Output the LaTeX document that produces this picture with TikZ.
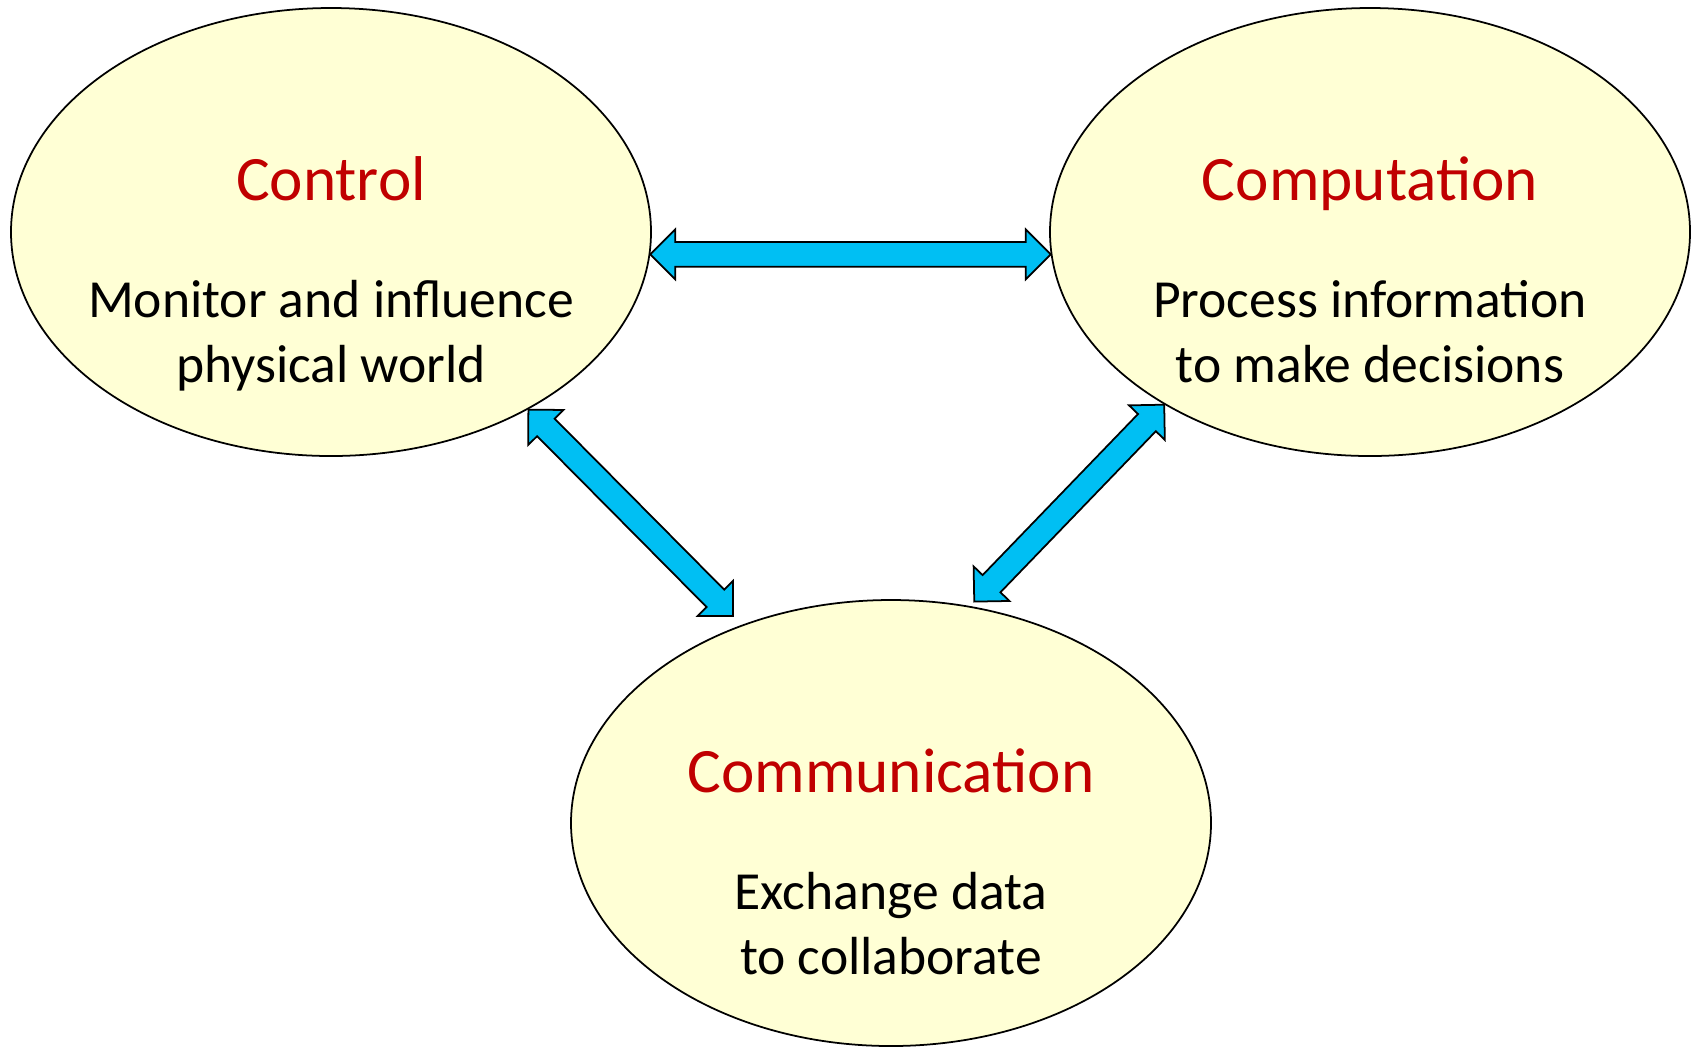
\documentclass[tikz,border=0pt]{standalone}
\usepackage{fontspec}
\setmainfont{Carlito}
\usetikzlibrary{shapes.geometric,shapes.arrows,calc}

\definecolor{ovalfill}{RGB}{255,255,213}
\definecolor{arrowblue}{RGB}{0,191,243}
\definecolor{titlered}{RGB}{192,0,0}

\begin{document}
\begin{tikzpicture}[
  oval/.style={ellipse, draw=black, line width=0.5pt, fill=ovalfill,
    minimum width=6.4cm, minimum height=4.48cm, inner sep=0pt},
  heading/.style={text=titlered, font={\fontsize{18}{18}\selectfont},
    text height=13.5pt, text depth=0pt},
  caption/.style={align=center, font={\fontsize{15.25}{18.5}\selectfont},
    execute at begin node=\strut, execute at end node=\strut},
  dblarrow/.style={double arrow, draw=black, line width=0.5pt, fill=arrowblue,
    inner xsep=0pt, inner ysep=0.115cm, double arrow head extend=0.125cm}
]

\useasboundingbox (0,0) rectangle (16.98,-10.47);

% the three ovals
\node [oval] (control) at (3.31,-2.32) {};
\node [oval] (computation) at (13.70,-2.32) {};
\node [oval, minimum height=4.46cm] (communication) at (8.91,-8.23) {};

\node [heading] (control-title) at ([yshift=0.553cm]control.center) {Control};
\node [caption] (control-text) at ([yshift=-1.095cm]control.center)
  {Monitor and influence\\physical world};

\node [heading] (computation-title) at ([yshift=0.553cm]computation.center) {Computation};
\node [caption] (computation-text) at ([yshift=-1.095cm]computation.center)
  {Process information\\to make decisions};

\node [heading] (communication-title) at ([yshift=0.543cm]communication.center) {Communication};
\node [caption] (communication-text) at ([yshift=-1.10cm]communication.center)
  {Exchange data\\to collaborate};

% block arrows between the ovals
\coordinate (left-end) at ($(communication.127.8)!0.12cm!(control.-42.7)$);
\coordinate (right-end) at ($(communication.70.2)!0.06cm!(computation.220.2)$);

\path let \p1=($(computation.184.3)-(control.-4.3)$), \n1={veclen(\x1,\y1)} in
  (control.-4.3) -- node [dblarrow, sloped, minimum height=\n1] (arrow-top) {} (computation.184.3);

\path let \p1=($(left-end)-(control.-42.7)$), \n1={veclen(\x1,\y1)} in
  (control.-42.7) -- node [dblarrow, sloped, minimum height=\n1] (arrow-left) {} (left-end);

\path let \p1=($(right-end)-(computation.220.2)$), \n1={veclen(\x1,\y1)} in
  (computation.220.2) -- node [dblarrow, sloped, minimum height=\n1] (arrow-right) {} (right-end);

\end{tikzpicture}
\end{document}
